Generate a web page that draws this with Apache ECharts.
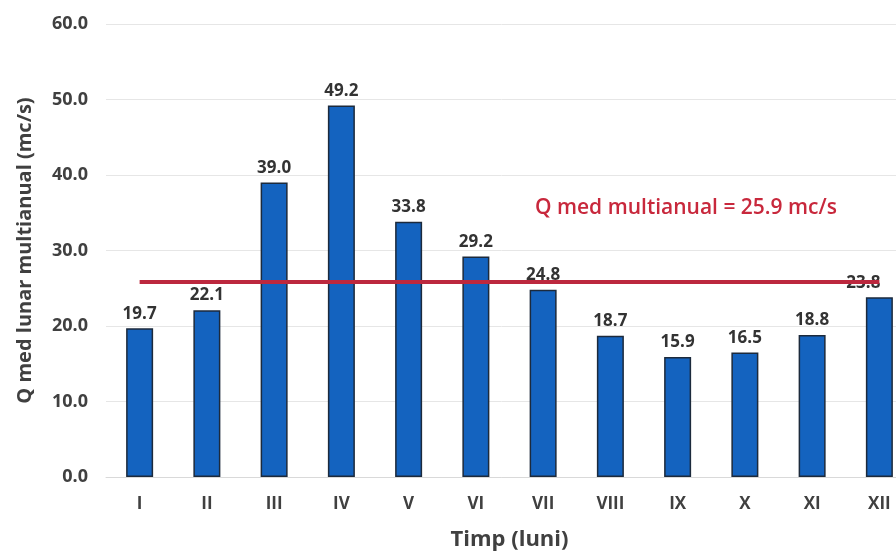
<!DOCTYPE html>
<html>
<head>
<meta charset="utf-8">
<script src="https://cdn.jsdelivr.net/npm/echarts@6/dist/echarts.min.js"></script>
<style>
  html, body { margin: 0; padding: 0; background: #fff; }
  #chart { width: 896px; height: 553px; }
</style>
</head>
<body>
<div id="chart"></div>
<script>
// luni
var months = ['I', 'II', 'III', 'IV', 'V', 'VI', 'VII', 'VIII', 'IX', 'X', 'XI', 'XII'];
// Q med lunar multianual (mc/s)
var qLunar = [19.7, 22.1, 39.0, 49.2, 33.8, 29.2, 24.8, 18.7, 15.9, 16.5, 18.8, 23.8];
var qMediu = 25.9;

var chart = echarts.init(document.getElementById('chart'));

var option = {
    backgroundColor: '#fff',
    title: {
        text: 'Q med multianual = ' + qMediu.toFixed(1) + ' mc/s',
        left: 530,
        top: 193,
        textStyle: {
            color: '#c8283c',
            fontSize: 21,
            fontWeight: 600,
            fontFamily: 'Open Sans'
        }
    },
    grid: {
        left: 106,
        right: -17,
        top: 24,
        bottom: 76,
        outerBoundsMode: 'none'
    },
    xAxis: {
        type: 'category',
        data: months,
        name: 'Timp (luni)',
        nameLocation: 'middle',
        nameGap: 52,
        nameTextStyle: {
            color: '#404040',
            fontSize: 22,
            fontWeight: 'bold',
            fontFamily: 'Open Sans'
        },
        axisLine: { lineStyle: { color: '#d9d9d9' } },
        axisTick: { show: false },
        axisLabel: {
            margin: 19,
            color: '#404040',
            fontSize: 17,
            fontWeight: 'bold',
            fontFamily: 'Open Sans'
        }
    },
    yAxis: {
        type: 'value',
        min: 0,
        max: 60,
        interval: 10,
        name: 'Q med lunar multianual (mc/s)',
        nameLocation: 'middle',
        nameGap: 71,
        nameTextStyle: {
            color: '#404040',
            fontSize: 20,
            fontWeight: 'bold',
            fontFamily: 'Open Sans'
        },
        axisLine: { show: false },
        axisTick: { show: false },
        splitLine: { lineStyle: { color: '#e6e6e6' } },
        axisLabel: {
            margin: 18,
            color: '#404040',
            fontSize: 18,
            fontWeight: 'bold',
            fontFamily: 'Open Sans',
            formatter: function (v) { return v.toFixed(1); }
        }
    },
    series: [{
        type: 'bar',
        data: qLunar,
        barWidth: 27,
        itemStyle: {
            color: '#1463bf',
            borderColor: '#1c2a3c',
            borderWidth: 1.5
        },
        label: {
            show: true,
            position: 'top',
            distance: 6,
            color: '#333',
            fontSize: 17,
            fontWeight: 'bold',
            fontFamily: 'Open Sans',
            formatter: function (p) { return p.value.toFixed(1); }
        },
        // ultima eticheta impinsa spre stanga, ca in original
        labelLayout: function (params) {
            if (params.dataIndex === qLunar.length - 1) {
                return { dx: -16 };
            }
        },
        markLine: {
            silent: true,
            symbol: 'none',
            label: { show: false },
            lineStyle: { color: '#bc283e', width: 4, type: 'solid' },
            data: [[
                { coord: [months[0], qMediu] },
                { coord: [months[months.length - 1], qMediu] }
            ]]
        }
    }]
};

chart.setOption(option);
</script>
</body>
</html>
